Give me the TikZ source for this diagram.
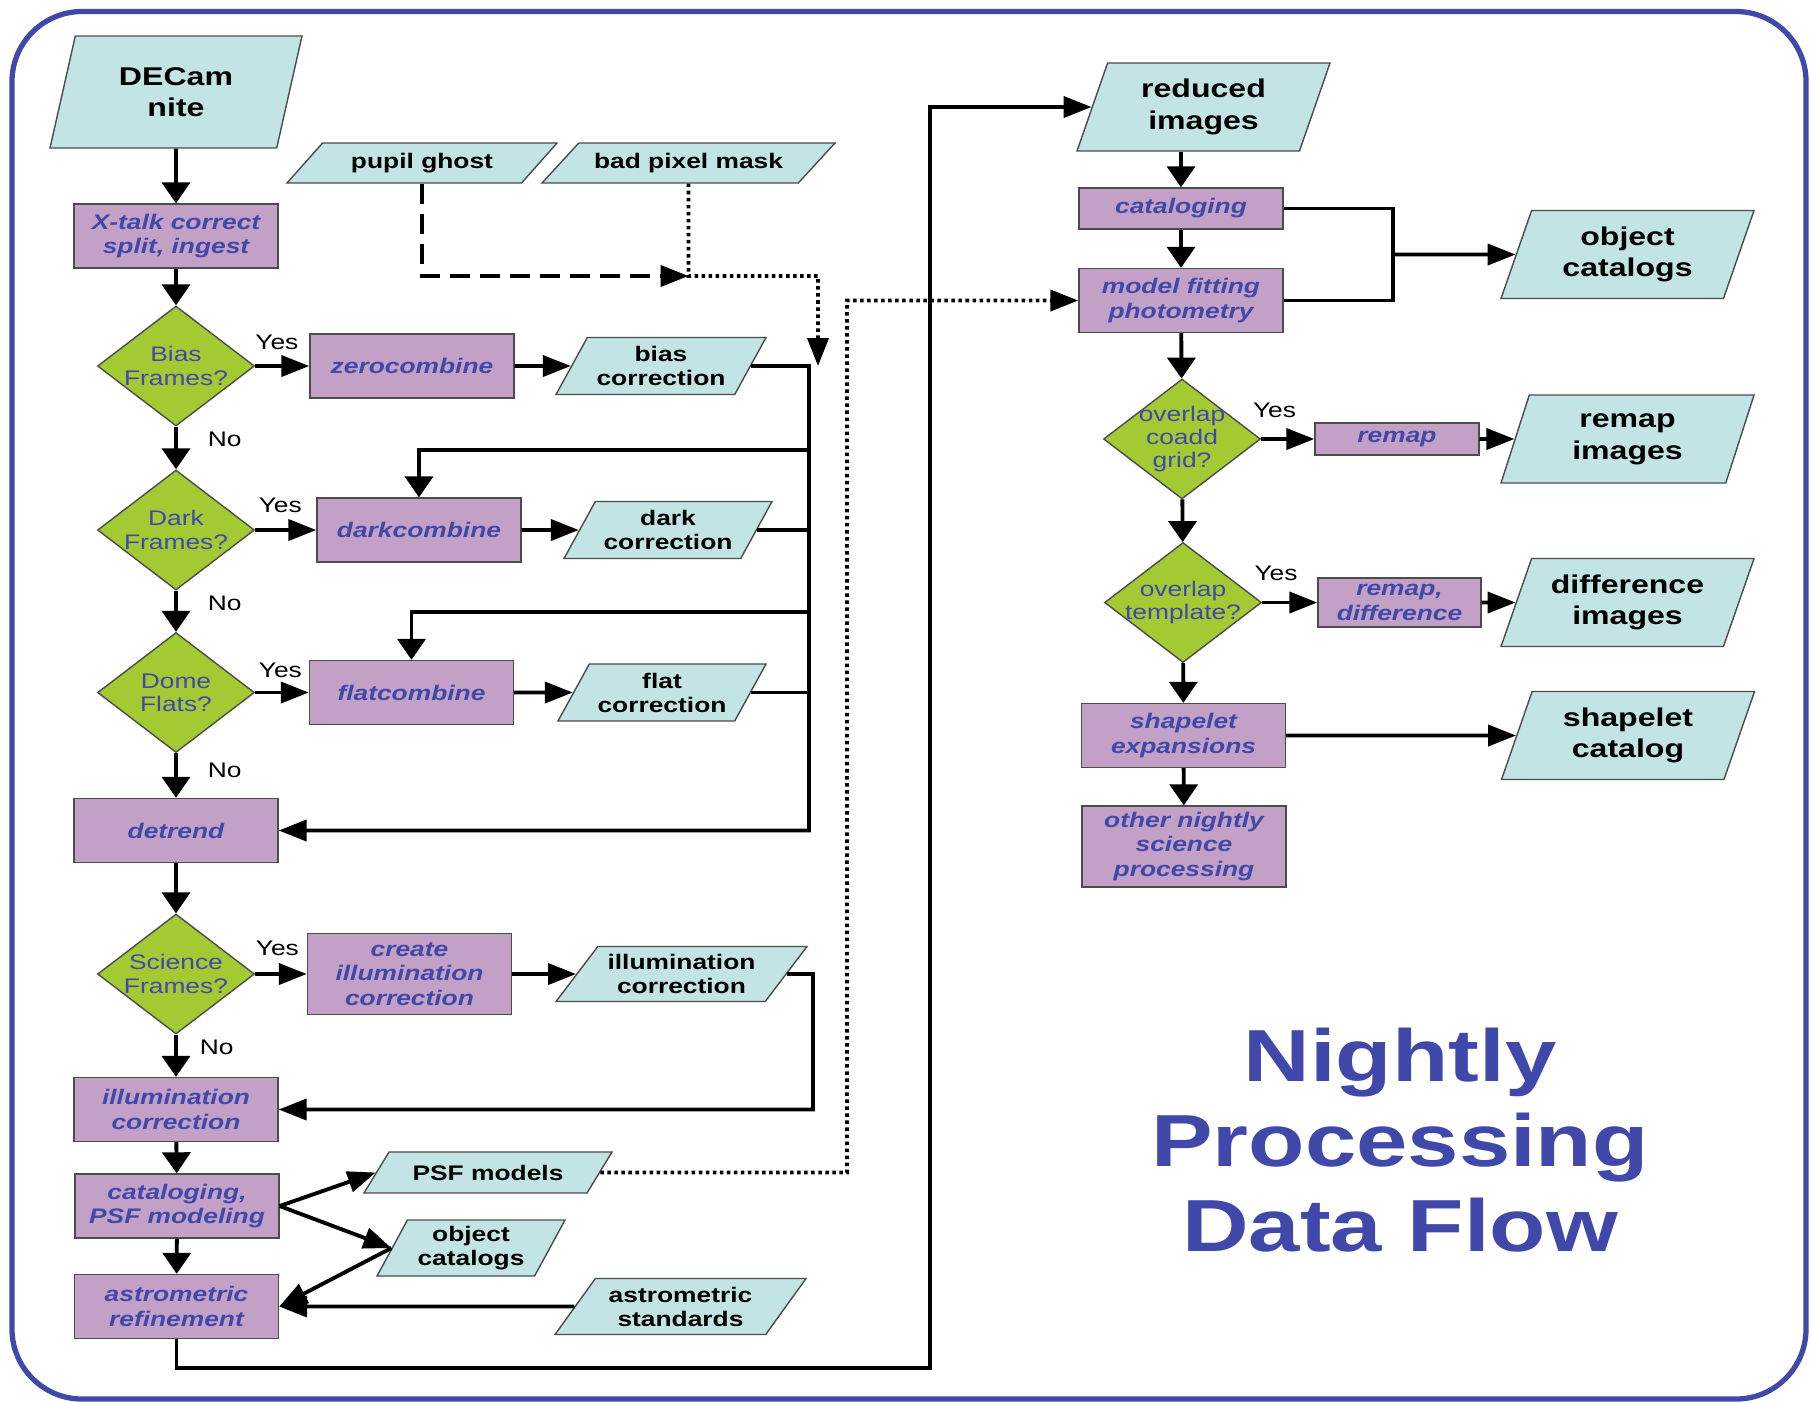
\documentclass[tikz,border=0pt]{standalone}
\usepackage{fontspec}
\setmainfont{Liberation Sans}[FakeStretch=1.25]
\usetikzlibrary{shapes.geometric,arrows.meta}

\definecolor{procfill}{RGB}{195,160,197}
\definecolor{datafill}{RGB}{194,228,228}
\definecolor{testfill}{RGB}{163,202,50}
\definecolor{inkblue}{RGB}{64,72,170}

\tikzset{
  proc/.style={draw=black!70, line width=0.4pt, fill=procfill, text=inkblue,
    font=\fontsize{6}{7}\selectfont\bfseries\itshape, align=center, inner sep=1pt,
    minimum width=2.04cm, minimum height=0.64cm},
  data/.style={trapezium, trapezium left angle=#1, trapezium right angle=180-#1,
    trapezium stretches body, draw=black!70, line width=0.4pt, fill=datafill,
    font=\fontsize{6}{6.8}\selectfont\bfseries, align=center, inner sep=1pt},
  bigdata/.style={data=#1, font=\fontsize{7.3}{9}\selectfont\bfseries,
    minimum width=2.53cm, minimum height=0.88cm},
  test/.style={diamond, draw=black!70, line width=0.4pt, fill=testfill, text=inkblue,
    font=\fontsize{6}{6.6}\selectfont, align=center, inner sep=-6pt,
    minimum width=1.57cm, minimum height=1.2cm},
  yn/.style={font=\fontsize{6}{7}\selectfont, inner sep=0pt},
  flow/.style={line width=1.1pt},
  arr/.style={flow, -{Triangle[length=2.8mm, width=2.1mm]}},
  darr/.style={flow, -{Triangle[length=2.1mm, width=2.8mm]}},
  dots/.style={dash pattern=on 1pt off 1pt},
}

\begin{document}
\begin{tikzpicture}
\useasboundingbox (0,0) rectangle (18.11,-14.02);
\draw[inkblue, line width=1.5pt, rounded corners=0.7cm] (0.12,-0.115) rectangle (18.06,-13.99);

% left column: calibration
\node[bigdata=66, minimum width=2.52cm, minimum height=1.12cm] (decam) at (1.76,-0.92) {DECam\\nite};
\node[proc] (xtalk) at (1.76,-2.36) {X-talk correct\\split, ingest};
\node[data=37, minimum width=2.70cm, minimum height=0.40cm] (ghost) at (4.22,-1.63) {pupil ghost};
\node[data=36, minimum width=2.93cm, minimum height=0.40cm] (bpm) at (6.885,-1.63) {bad pixel mask};

\node[test] (bias) at (1.76,-3.66) {Bias\\Frames?};
\node[proc] (zero) at (4.12,-3.66) {zerocombine};
\node[data=56, minimum width=2.10cm, minimum height=0.57cm] (biascor) at (6.61,-3.66) {bias\\correction};

\node[test] (dark) at (1.76,-5.30) {Dark\\Frames?};
\node[proc] (darkc) at (4.19,-5.30) {darkcombine};
\node[data=56, minimum width=2.08cm, minimum height=0.57cm] (darkcor) at (6.68,-5.30) {dark\\correction};

\node[test] (dome) at (1.76,-6.925) {Dome\\Flats?};
\node[proc] (flatc) at (4.115,-6.925) {flatcombine};
\node[data=56, minimum width=2.08cm, minimum height=0.57cm] (flatcor) at (6.62,-6.925) {flat\\correction};

\node[proc] (detrend) at (1.76,-8.305) {detrend};

\node[test] (sci) at (1.76,-9.74) {Science\\Frames?};
\node[proc, minimum height=0.81cm] (mkillum) at (4.095,-9.74) {create\\illumination\\correction};
\node[data=48, minimum width=2.51cm, minimum height=0.55cm] (illumcor) at (6.815,-9.74) {illumination\\correction};

\node[proc] (illum) at (1.76,-11.095) {illumination\\correction};
\node[proc] (catpsf) at (1.77,-12.06) {cataloging,\\PSF modeling};
\node[proc] (astro) at (1.765,-13.065) {astrometric\\refinement};
\node[data=42, minimum width=2.48cm, minimum height=0.41cm] (psf) at (4.88,-11.725) {PSF models};
\node[data=59, minimum width=1.88cm, minimum height=0.56cm] (objcatl) at (4.71,-12.48) {object\\catalogs};
\node[data=49, minimum width=2.51cm, minimum height=0.56cm] (astrostd) at (6.805,-13.065) {astrometric\\standards};

% right column: science
\node[bigdata=64] (reduced) at (12.035,-1.07) {reduced\\images};
\node[proc, minimum height=0.41cm] (catlg) at (11.81,-2.085) {cataloging};
\node[proc] (fit) at (11.81,-3.005) {model fitting\\photometry};
\node[bigdata=64] (objcat) at (16.275,-2.545) {object\\catalogs};

\node[test] (coadd) at (11.82,-4.39) {overlap\\coadd\\grid?};
\node[proc, minimum width=1.64cm, minimum height=0.32cm] (remap) at (13.97,-4.39) {remap};
\node[bigdata=64] (remapimg) at (16.275,-4.39) {remap\\images};

\node[test] (templ) at (11.83,-6.025) {overlap\\template?};
\node[proc, minimum width=1.63cm, minimum height=0.49cm] (remdiff) at (13.995,-6.025) {remap,\\difference};
\node[bigdata=64] (diffimg) at (16.275,-6.025) {difference\\images};

\node[proc] (shape) at (11.835,-7.355) {shapelet\\expansions};
\node[bigdata=64] (shapecat) at (16.28,-7.355) {shapelet\\catalog};
\node[proc, minimum height=0.81cm] (other) at (11.84,-8.465) {other nightly\\science\\processing};

\node[text=inkblue, font=\fontsize{21}{24.2}\selectfont\bfseries, align=center] (title) at (14.0,-11.40) {Nightly\\Processing\\Data Flow};

% bends of the connectors
\coordinate (bustop) at (8.09,-3.66);
\coordinate (darkfeed) at (8.09,-4.50);
\coordinate (flatfeed) at (8.09,-6.12);
\coordinate (join) at (6.885,-2.76);
\coordinate (bpmend) at (8.18,-3.66);
\coordinate (illbus) at (8.13,-9.74);
\coordinate (psfbus) at (8.47,-11.725);
\coordinate (low) at (9.30,-13.68);
\coordinate (objbus) at (13.93,-2.545);

% calibration flow
\draw[darr] (decam) -- (xtalk);
\draw[darr] (xtalk) -- (bias);
\draw[arr] (bias) -- (zero) node[yn, pos=0.4, above=1.4mm] {Yes};
\draw[arr] (zero) -- (biascor);
\draw[darr] (bias) -- (dark) node[yn, pos=0.3, right=3mm] {No};
\draw[arr] (dark) -- (darkc) node[yn, pos=0.41, above=1.5mm] {Yes};
\draw[arr] (darkc) -- (darkcor);
\draw[darr] (dark) -- (dome) node[yn, pos=0.3, right=3mm] {No};
\draw[arr] (dome) -- (flatc) node[yn, pos=0.47, above=1.25mm] {Yes};
\draw[arr] (flatc) -- (flatcor);
\draw[darr] (dome) -- (detrend) node[yn, pos=0.38, right=3mm] {No};

\draw[arr] (biascor.east) -- (bustop) |- (detrend.east);
\draw[flow] (darkcor.east) -- (darkcor.east -| bustop);
\draw[flow] (flatcor.east) -- (flatcor.east -| bustop);
\draw[darr] (darkfeed) -| (darkc.north);
\draw[darr] (flatfeed) -| (flatc.north);

\draw[arr, dashed, dash pattern=on 2mm off 1mm] (ghost.south) |- (join);
\draw[arr, dots] (bpm.south) -- (join) -| (bpmend);

\draw[darr] (detrend) -- (sci);
\draw[arr] (sci) -- (mkillum) node[yn, pos=0.43, above=1.6mm] {Yes};
\draw[arr] (mkillum) -- (illumcor);
\draw[arr] (illumcor.east) -- (illbus) |- (illum.east);
\draw[darr] (sci) -- (illum) node[yn, pos=0.3, right=2.2mm] {No};
\draw[darr] (illum) -- (catpsf);
\draw[darr] (catpsf) -- (astro);
\draw[arr] (catpsf.east) -- (psf.west);
\draw[arr] (catpsf.east) -- (objcatl.west);
\draw[arr] (objcatl.west) -- (astro.east);
\draw[arr] (astrostd.west) -- (astro.east);

\draw[arr, dots] (psf.east) -- (psfbus) |- (fit.west);
\draw[arr] (astro.south) |- (low) |- (reduced.west);

% science flow
\draw[darr] (reduced.south -| catlg) -- (catlg);
\draw[darr] (catlg) -- (fit);
\draw[flow] (catlg.east) -| (objbus) |- (fit.east);
\draw[arr] (objbus) -- (objcat.west);
\draw[darr] (fit) -- (coadd);
\draw[arr] (coadd) -- (remap) node[yn, pos=0.25, above=1.9mm] {Yes};
\draw[arr] (remap) -- (remapimg);
\draw[darr] (coadd) -- (templ);
\draw[arr] (templ) -- (remdiff) node[yn, pos=0.25, above=1.95mm] {Yes};
\draw[arr] (remdiff) -- (diffimg);
\draw[darr] (templ) -- (shape);
\draw[arr] (shape) -- (shapecat);
\draw[darr] (shape) -- (other);
\end{tikzpicture}
\end{document}
